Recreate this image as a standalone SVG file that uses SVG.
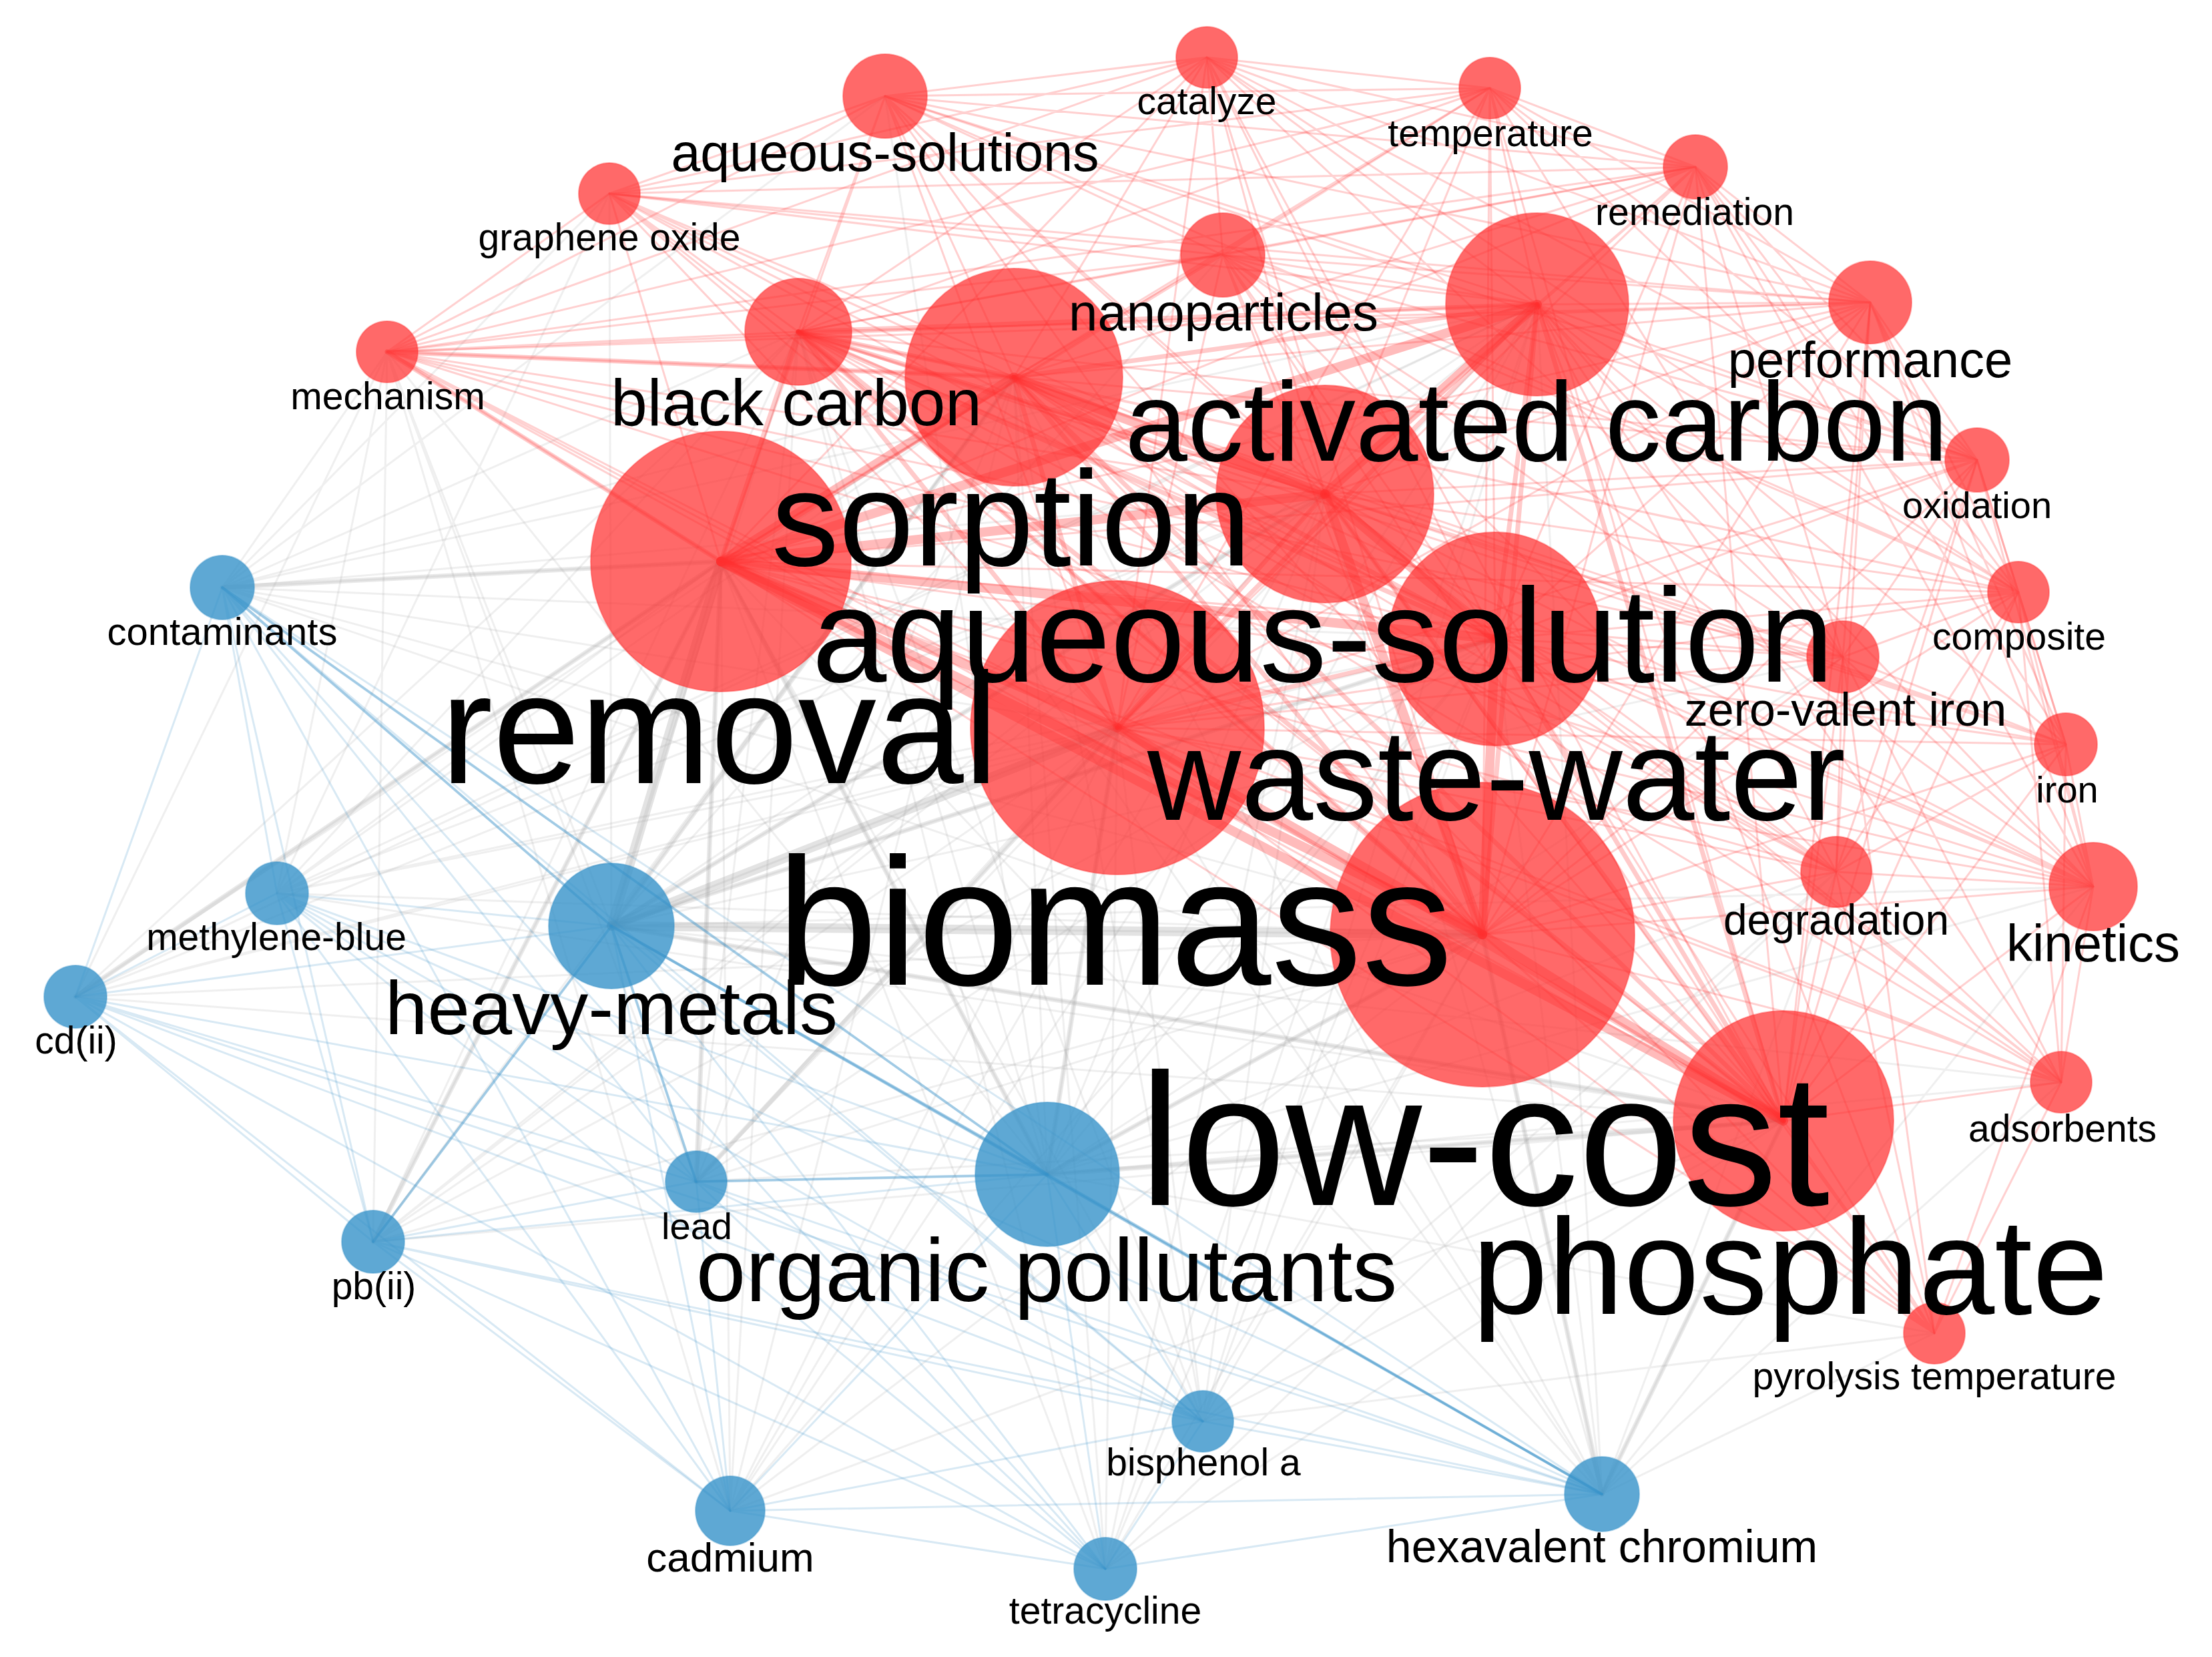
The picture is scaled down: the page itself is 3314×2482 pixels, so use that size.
<svg xmlns="http://www.w3.org/2000/svg" width="3314" height="2482" viewBox="0 0 3314 2482">
<style>
.e path,.e line{fill:none;stroke-linecap:round}
.r1{stroke:#ff2a2a;stroke-opacity:.22;stroke-width:3}
.r2{stroke:#ff2a2a;stroke-opacity:.25;stroke-width:7}
.r3{stroke:#ff2a2a;stroke-opacity:.32;stroke-width:14}
.g1{stroke:#9a9a9a;stroke-opacity:.16;stroke-width:3}
.g2{stroke:#9a9a9a;stroke-opacity:.22;stroke-width:7}
.g3{stroke:#9a9a9a;stroke-opacity:.28;stroke-width:14}
.b1{stroke:#3a93c8;stroke-opacity:.2;stroke-width:3}
.b2{stroke:#3a93c8;stroke-opacity:.35;stroke-width:4}
.nr circle{fill:#ff2f2f;fill-opacity:.72;stroke:#ff2f2f;stroke-opacity:.4;stroke-width:2}
.nb circle{fill:#3692c9;fill-opacity:.8;stroke:#3692c9;stroke-opacity:.4;stroke-width:2}
text{font-family:"Liberation Sans",Arial,sans-serif;text-anchor:middle;fill:#000}
</style>
<rect width="3314" height="2482" fill="#fff"/>
<g id="connectors" class="e">
<path class="g1" d="M333 880L1196 497M333 880L1519 565M333 880L2303 456M333 880L1985 740M333 880L1080 841M333 880L2240 957M333 880L1674 1090M333 880L2221 1400M333 880L2672 1679"/>
<path class="g1" d="M415 1338L1196 497M415 1338L1519 565M415 1338L2303 456M415 1338L1985 740M415 1338L1080 841M415 1338L2240 957M415 1338L1674 1090M415 1338L2221 1400M415 1338L2672 1679"/>
<path class="g1" d="M916 1387L1196 497M916 1387L1519 565M916 1387L2303 456M916 1387L1985 740M916 1387L1080 841M916 1387L2240 957M916 1387L1674 1090M916 1387L2221 1400M916 1387L2672 1679"/>
<path class="g1" d="M113 1493L1196 497M113 1493L1519 565M113 1493L2303 456M113 1493L1985 740M113 1493L1080 841M113 1493L2240 957M113 1493L1674 1090M113 1493L2221 1400M113 1493L2672 1679"/>
<path class="g1" d="M559 1860L1196 497M559 1860L1519 565M559 1860L2303 456M559 1860L1985 740M559 1860L1080 841M559 1860L2240 957M559 1860L1674 1090M559 1860L2221 1400M559 1860L2672 1679"/>
<path class="g1" d="M1043 1770L1196 497M1043 1770L1519 565M1043 1770L2303 456M1043 1770L1985 740M1043 1770L1080 841M1043 1770L2240 957M1043 1770L1674 1090M1043 1770L2221 1400M1043 1770L2672 1679"/>
<path class="g1" d="M1094 2263L1196 497M1094 2263L1519 565M1094 2263L2303 456M1094 2263L1985 740M1094 2263L1080 841M1094 2263L2240 957M1094 2263L1674 1090M1094 2263L2221 1400M1094 2263L2672 1679"/>
<path class="g1" d="M1569 1759L1196 497M1569 1759L1519 565M1569 1759L2303 456M1569 1759L1985 740M1569 1759L1080 841M1569 1759L2240 957M1569 1759L1674 1090M1569 1759L2221 1400M1569 1759L2672 1679"/>
<path class="g1" d="M1802 2129L1196 497M1802 2129L1519 565M1802 2129L2303 456M1802 2129L1985 740M1802 2129L1080 841M1802 2129L2240 957M1802 2129L1674 1090M1802 2129L2221 1400M1802 2129L2672 1679"/>
<path class="g1" d="M1656 2350L1196 497M1656 2350L1519 565M1656 2350L2303 456M1656 2350L1985 740M1656 2350L1080 841M1656 2350L2240 957M1656 2350L1674 1090M1656 2350L2221 1400M1656 2350L2672 1679"/>
<path class="g1" d="M2400 2238L1196 497M2400 2238L1519 565M2400 2238L2303 456M2400 2238L1985 740M2400 2238L1080 841M2400 2238L2240 957M2400 2238L1674 1090M2400 2238L2221 1400M2400 2238L2672 1679"/>
<path class="g1" d="M333 880L580 527M333 880L913 290M415 1338L580 527M113 1493L580 527M559 1860L580 527M916 1387L580 527M916 1387L913 290M916 1387L1832 382M916 1387L3136 1328M916 1387L2761 984M1569 1759L2751 1306M1569 1759L3136 1328M1569 1759L2761 984M2400 2238L2898 1997M2400 2238L3088 1621M2400 2238L2751 1306M2400 2238L3136 1328M1802 2129L2898 1997M1802 2129L2751 1306M1094 2263L580 527M1043 1770L580 527M1569 1759L580 527M1569 1759L1326 144M333 880L1326 144M1656 2350L2751 1306M415 1338L913 290M1569 1759L2898 1997M916 1387L3088 1621M1569 1759L3088 1621"/>
<line class="g2" x1="1569" y1="1759" x2="2221" y2="1400"/>
<line class="g2" x1="1569" y1="1759" x2="1674" y2="1090"/>
<line class="g2" x1="1569" y1="1759" x2="1080" y2="841"/>
<line class="g2" x1="916" y1="1387" x2="1519" y2="565"/>
<line class="g2" x1="916" y1="1387" x2="1985" y2="740"/>
<line class="g2" x1="916" y1="1387" x2="2240" y2="957"/>
<line class="g2" x1="916" y1="1387" x2="2672" y2="1679"/>
<line class="g2" x1="333" y1="880" x2="1080" y2="841"/>
<line class="g2" x1="1569" y1="1759" x2="2672" y2="1679"/>
<line class="g2" x1="2400" y1="2238" x2="2221" y2="1400"/>
<line class="g2" x1="2400" y1="2238" x2="2672" y2="1679"/>
<line class="g2" x1="1043" y1="1770" x2="1080" y2="841"/>
<line class="g2" x1="1043" y1="1770" x2="1674" y2="1090"/>
<line class="g2" x1="559" y1="1860" x2="1080" y2="841"/>
<line class="g2" x1="113" y1="1493" x2="1080" y2="841"/>
<line class="g3" x1="916" y1="1387" x2="2221" y2="1400"/>
<line class="g3" x1="916" y1="1387" x2="1080" y2="841"/>
<line class="g3" x1="916" y1="1387" x2="1674" y2="1090"/>
<path class="b1" d="M333 880L415 1338M333 880L916 1387M333 880L113 1493M333 880L559 1860M333 880L1043 1770M333 880L1094 2263M333 880L1569 1759M333 880L1802 2129M333 880L1656 2350M333 880L2400 2238"/>
<path class="b1" d="M415 1338L916 1387M415 1338L113 1493M415 1338L559 1860M415 1338L1043 1770M415 1338L1094 2263M415 1338L1569 1759M415 1338L1802 2129M415 1338L1656 2350M415 1338L2400 2238"/>
<path class="b1" d="M916 1387L113 1493M916 1387L559 1860M916 1387L1043 1770M916 1387L1094 2263M916 1387L1569 1759M916 1387L1802 2129M916 1387L1656 2350M916 1387L2400 2238"/>
<path class="b1" d="M113 1493L559 1860M113 1493L1043 1770M113 1493L1094 2263M113 1493L1569 1759M113 1493L1802 2129M113 1493L1656 2350M113 1493L2400 2238"/>
<path class="b1" d="M559 1860L1043 1770M559 1860L1094 2263M559 1860L1569 1759M559 1860L1802 2129M559 1860L1656 2350M559 1860L2400 2238"/>
<path class="b1" d="M1043 1770L1094 2263M1043 1770L1569 1759M1043 1770L1802 2129M1043 1770L1656 2350M1043 1770L2400 2238"/>
<path class="b1" d="M1094 2263L1569 1759M1094 2263L1802 2129M1094 2263L1656 2350M1094 2263L2400 2238"/>
<path class="b1" d="M1569 1759L1802 2129M1569 1759L1656 2350M1569 1759L2400 2238M1802 2129L1656 2350M1802 2129L2400 2238M1656 2350L2400 2238"/>
<line class="b2" x1="916" y1="1387" x2="1569" y2="1759"/>
<line class="b2" x1="916" y1="1387" x2="2400" y2="2238"/>
<line class="b2" x1="1569" y1="1759" x2="2400" y2="2238"/>
<line class="b2" x1="333" y1="880" x2="916" y2="1387"/>
<line class="b2" x1="916" y1="1387" x2="1043" y2="1770"/>
<line class="b2" x1="1569" y1="1759" x2="1043" y2="1770"/>
<line class="b2" x1="559" y1="1860" x2="916" y2="1387"/>
<line class="b2" x1="333" y1="880" x2="1569" y2="1759"/>
<path class="r1" d="M1326 144L1196 497M1326 144L1519 565M1326 144L2303 456M1326 144L1985 740M1326 144L1080 841M1326 144L2240 957M1326 144L1674 1090M1326 144L2221 1400M1326 144L2672 1679"/>
<path class="r1" d="M1808 86L1196 497M1808 86L1519 565M1808 86L2303 456M1808 86L1985 740M1808 86L1080 841M1808 86L2240 957M1808 86L1674 1090M1808 86L2221 1400M1808 86L2672 1679"/>
<path class="r1" d="M2232 132L1196 497M2232 132L1519 565M2232 132L2303 456M2232 132L1985 740M2232 132L1080 841M2232 132L2240 957M2232 132L1674 1090M2232 132L2221 1400M2232 132L2672 1679"/>
<path class="r1" d="M2540 250L1196 497M2540 250L1519 565M2540 250L2303 456M2540 250L1985 740M2540 250L1080 841M2540 250L2240 957M2540 250L1674 1090M2540 250L2221 1400M2540 250L2672 1679"/>
<path class="r1" d="M913 290L1196 497M913 290L1519 565M913 290L2303 456M913 290L1985 740M913 290L1080 841M913 290L2240 957M913 290L1674 1090M913 290L2221 1400M913 290L2672 1679"/>
<path class="r1" d="M1832 382L1196 497M1832 382L1519 565M1832 382L2303 456M1832 382L1985 740M1832 382L1080 841M1832 382L2240 957M1832 382L1674 1090M1832 382L2221 1400M1832 382L2672 1679"/>
<path class="r1" d="M2802 453L1196 497M2802 453L1519 565M2802 453L2303 456M2802 453L1985 740M2802 453L1080 841M2802 453L2240 957M2802 453L1674 1090M2802 453L2221 1400M2802 453L2672 1679"/>
<path class="r1" d="M580 527L1196 497M580 527L1519 565M580 527L2303 456M580 527L1985 740M580 527L1080 841M580 527L2240 957M580 527L1674 1090M580 527L2221 1400M580 527L2672 1679"/>
<path class="r1" d="M2962 689L1196 497M2962 689L1519 565M2962 689L2303 456M2962 689L1985 740M2962 689L1080 841M2962 689L2240 957M2962 689L1674 1090M2962 689L2221 1400M2962 689L2672 1679"/>
<path class="r1" d="M3024 887L1196 497M3024 887L1519 565M3024 887L2303 456M3024 887L1985 740M3024 887L1080 841M3024 887L2240 957M3024 887L1674 1090M3024 887L2221 1400M3024 887L2672 1679"/>
<path class="r1" d="M2761 984L1196 497M2761 984L1519 565M2761 984L2303 456M2761 984L1985 740M2761 984L1080 841M2761 984L2240 957M2761 984L1674 1090M2761 984L2221 1400M2761 984L2672 1679"/>
<path class="r1" d="M3095 1115L1196 497M3095 1115L1519 565M3095 1115L2303 456M3095 1115L1985 740M3095 1115L1080 841M3095 1115L2240 957M3095 1115L1674 1090M3095 1115L2221 1400M3095 1115L2672 1679"/>
<path class="r1" d="M2751 1306L1196 497M2751 1306L1519 565M2751 1306L2303 456M2751 1306L1985 740M2751 1306L1080 841M2751 1306L2240 957M2751 1306L1674 1090M2751 1306L2221 1400M2751 1306L2672 1679"/>
<path class="r1" d="M3136 1328L1196 497M3136 1328L1519 565M3136 1328L2303 456M3136 1328L1985 740M3136 1328L1080 841M3136 1328L2240 957M3136 1328L1674 1090M3136 1328L2221 1400M3136 1328L2672 1679"/>
<path class="r1" d="M3088 1621L1196 497M3088 1621L1519 565M3088 1621L2303 456M3088 1621L1985 740M3088 1621L1080 841M3088 1621L2240 957M3088 1621L1674 1090M3088 1621L2221 1400M3088 1621L2672 1679"/>
<path class="r1" d="M2898 1997L1196 497M2898 1997L1519 565M2898 1997L2303 456M2898 1997L1985 740M2898 1997L1080 841M2898 1997L2240 957M2898 1997L1674 1090M2898 1997L2221 1400M2898 1997L2672 1679"/>
<path class="r1" d="M1326 144L1808 86M1326 144L913 290M1326 144L1832 382M1326 144L2232 132M1326 144L580 527M1808 86L2232 132M1808 86L1832 382M1808 86L2540 250M2232 132L2540 250M2232 132L1832 382M2232 132L2802 453M2540 250L2802 453M2540 250L2962 689M2540 250L1832 382M913 290L580 527M913 290L1832 382M1832 382L2802 453M2802 453L2962 689M2802 453L3024 887M2802 453L2761 984M2962 689L3024 887M2962 689L2761 984M3024 887L2761 984M3024 887L3095 1115M3024 887L3136 1328M2761 984L3095 1115M2761 984L2751 1306M2761 984L3136 1328M3095 1115L3136 1328M3095 1115L2751 1306M2751 1306L3136 1328M3136 1328L3088 1621M2751 1306L3088 1621M3088 1621L2898 1997M3136 1328L2898 1997M2751 1306L2898 1997M580 527L1832 382M913 290L1808 86M2802 453L3136 1328M2962 689L3136 1328M2540 250L3024 887M2232 132L2962 689M580 527L1808 86M580 527L2802 453M913 290L2232 132M1326 144L2802 453M1326 144L2540 250M1808 86L2802 453M1832 382L3136 1328M1832 382L2751 1306M1832 382L2761 984"/>
<path class="r1" d="M913 290L2540 250M1326 144L2962 689M1808 86L2962 689M1808 86L3024 887M2232 132L3024 887M2232 132L2761 984M2540 250L2761 984M2540 250L3136 1328M2540 250L3095 1115M1832 382L2962 689M1832 382L3024 887M2802 453L3095 1115M2802 453L2751 1306M2962 689L3095 1115M2962 689L2751 1306M3024 887L2751 1306M3024 887L3088 1621M3095 1115L3088 1621M2761 984L3088 1621M2761 984L2898 1997M580 527L2232 132M580 527L2540 250M913 290L2802 453M1326 144L3024 887M1808 86L2761 984M580 527L2761 984M580 527L3136 1328M913 290L2751 1306"/>
<line class="r2" x1="1196" y1="497" x2="1519" y2="565"/>
<line class="r2" x1="1196" y1="497" x2="2303" y2="456"/>
<line class="r2" x1="1196" y1="497" x2="1985" y2="740"/>
<line class="r2" x1="1196" y1="497" x2="1080" y2="841"/>
<line class="r2" x1="1196" y1="497" x2="2240" y2="957"/>
<line class="r2" x1="1196" y1="497" x2="1674" y2="1090"/>
<line class="r2" x1="1196" y1="497" x2="2221" y2="1400"/>
<line class="r2" x1="1196" y1="497" x2="2672" y2="1679"/>
<line class="r2" x1="1519" y1="565" x2="2303" y2="456"/>
<line class="r2" x1="1519" y1="565" x2="2240" y2="957"/>
<line class="r2" x1="1519" y1="565" x2="1674" y2="1090"/>
<line class="r2" x1="1519" y1="565" x2="2221" y2="1400"/>
<line class="r2" x1="1519" y1="565" x2="2672" y2="1679"/>
<line class="r2" x1="2303" y1="456" x2="2240" y2="957"/>
<line class="r2" x1="2303" y1="456" x2="1674" y2="1090"/>
<line class="r2" x1="2303" y1="456" x2="2221" y2="1400"/>
<line class="r2" x1="2303" y1="456" x2="2672" y2="1679"/>
<line class="r2" x1="1985" y1="740" x2="1674" y2="1090"/>
<line class="r2" x1="1985" y1="740" x2="2672" y2="1679"/>
<line class="r2" x1="2240" y1="957" x2="1674" y2="1090"/>
<line class="r2" x1="2240" y1="957" x2="2672" y2="1679"/>
<line class="r2" x1="1674" y1="1090" x2="2672" y2="1679"/>
<line class="r2" x1="580" y1="527" x2="1080" y2="841"/>
<line class="r2" x1="580" y1="527" x2="1519" y2="565"/>
<line class="r3" x1="1080" y1="841" x2="1674" y2="1090"/>
<line class="r3" x1="1080" y1="841" x2="2221" y2="1400"/>
<line class="r3" x1="1080" y1="841" x2="2672" y2="1679"/>
<line class="r3" x1="1080" y1="841" x2="1985" y2="740"/>
<line class="r3" x1="1080" y1="841" x2="1519" y2="565"/>
<line class="r3" x1="1080" y1="841" x2="2240" y2="957"/>
<line class="r3" x1="1674" y1="1090" x2="2221" y2="1400"/>
<line class="r3" x1="1985" y1="740" x2="2221" y2="1400"/>
<line class="r3" x1="1519" y1="565" x2="1985" y2="740"/>
<line class="r3" x1="1080" y1="841" x2="2303" y2="456"/>
<line class="r3" x1="2221" y1="1400" x2="2672" y2="1679"/>
<line class="r3" x1="2240" y1="957" x2="2221" y2="1400"/>
<line class="r3" x1="1985" y1="740" x2="2240" y2="957"/>
<line class="r3" x1="2303" y1="456" x2="1985" y2="740"/>
</g>
<g id="nodes">
<g id="n-aqueous-solutions" class="nr"><circle cx="1326" cy="144" r="63"/></g>
<g id="n-catalyze" class="nr"><circle cx="1808" cy="86" r="46"/></g>
<g id="n-temperature" class="nr"><circle cx="2232" cy="132" r="46"/></g>
<g id="n-remediation" class="nr"><circle cx="2540" cy="250" r="48"/></g>
<g id="n-graphene-oxide" class="nr"><circle cx="913" cy="290" r="46"/></g>
<g id="n-nanoparticles" class="nr"><circle cx="1832" cy="382" r="63"/></g>
<g id="n-activated-carbon" class="nr"><circle cx="2303" cy="456" r="137"/></g>
<g id="n-performance" class="nr"><circle cx="2802" cy="453" r="62"/></g>
<g id="n-mechanism" class="nr"><circle cx="580" cy="527" r="46"/></g>
<g id="n-black-carbon" class="nr"><circle cx="1196" cy="497" r="80"/></g>
<g id="n-sorption" class="nr"><circle cx="1519" cy="565" r="163"/></g>
<g id="n-oxidation" class="nr"><circle cx="2962" cy="689" r="48"/></g>
<g id="n-aqueous-solution" class="nr"><circle cx="1985" cy="740" r="163"/></g>
<g id="n-removal" class="nr"><circle cx="1080" cy="841" r="195"/></g>
<g id="n-composite" class="nr"><circle cx="3024" cy="887" r="46"/></g>
<g id="n-zero-valent-iron" class="nr"><circle cx="2761" cy="984" r="54"/></g>
<g id="n-waste-water" class="nr"><circle cx="2240" cy="957" r="160"/></g>
<g id="n-biomass" class="nr"><circle cx="1674" cy="1090" r="220"/></g>
<g id="n-iron" class="nr"><circle cx="3095" cy="1115" r="47"/></g>
<g id="n-degradation" class="nr"><circle cx="2751" cy="1306" r="53"/></g>
<g id="n-kinetics" class="nr"><circle cx="3136" cy="1328" r="66"/></g>
<g id="n-low-cost" class="nr"><circle cx="2221" cy="1400" r="228"/></g>
<g id="n-adsorbents" class="nr"><circle cx="3088" cy="1621" r="46"/></g>
<g id="n-phosphate" class="nr"><circle cx="2672" cy="1679" r="165"/></g>
<g id="n-pyrolysis-temperature" class="nr"><circle cx="2898" cy="1997" r="46"/></g>
<g id="n-contaminants" class="nb"><circle cx="333" cy="880" r="48"/></g>
<g id="n-methylene-blue" class="nb"><circle cx="415" cy="1338" r="47"/></g>
<g id="n-heavy-metals" class="nb"><circle cx="916" cy="1387" r="94"/></g>
<g id="n-cd-ii" class="nb"><circle cx="113" cy="1493" r="47"/></g>
<g id="n-pb-ii" class="nb"><circle cx="559" cy="1860" r="47"/></g>
<g id="n-lead" class="nb"><circle cx="1043" cy="1770" r="46"/></g>
<g id="n-cadmium" class="nb"><circle cx="1094" cy="2263" r="52"/></g>
<g id="n-organic-pollutants" class="nb"><circle cx="1569" cy="1759" r="108"/></g>
<g id="n-bisphenol-a" class="nb"><circle cx="1802" cy="2129" r="46"/></g>
<g id="n-tetracycline" class="nb"><circle cx="1656" cy="2350" r="47"/></g>
<g id="n-hexavalent-chromium" class="nb"><circle cx="2400" cy="2238" r="56"/></g>
</g>
<g id="labels">
<text id="l-aqueous-solutions" x="1326" y="256" font-size="79">aqueous-solutions</text>
<text id="l-catalyze" x="1808" y="171" font-size="57">catalyze</text>
<text id="l-temperature" x="2233" y="219" font-size="57">temperature</text>
<text id="l-remediation" x="2539" y="337" font-size="57">remediation</text>
<text id="l-graphene-oxide" x="913" y="375" font-size="57">graphene oxide</text>
<text id="l-nanoparticles" x="1833" y="495" font-size="78">nanoparticles</text>
<text id="l-activated-carbon" x="2302" y="690" font-size="168">activated carbon</text>
<text id="l-performance" x="2802" y="565" font-size="76">performance</text>
<text id="l-mechanism" x="581" y="613" font-size="57">mechanism</text>
<text id="l-black-carbon" x="1193" y="637" font-size="98">black carbon</text>
<text id="l-sorption" x="1515" y="847" font-size="202">sorption</text>
<text id="l-oxidation" x="2962" y="776" font-size="56">oxidation</text>
<text id="l-aqueous-solution" x="1982" y="1021" font-size="201">aqueous-solution</text>
<text id="l-removal" x="1078" y="1173" font-size="235">removal</text>
<text id="l-composite" x="3025" y="973" font-size="57">composite</text>
<text id="l-zero-valent-iron" x="2765" y="1087" font-size="70">zero-valent iron</text>
<text id="l-waste-water" x="2242" y="1228" font-size="194">waste-water</text>
<text id="l-biomass" x="1670" y="1475" font-size="272">biomass</text>
<text id="l-iron" x="3097" y="1202" font-size="56">iron</text>
<text id="l-degradation" x="2751" y="1400" font-size="64">degradation</text>
<text id="l-kinetics" x="3136" y="1440" font-size="78">kinetics</text>
<text id="l-low-cost" x="2224" y="1805" font-size="282">low-cost</text>
<text id="l-adsorbents" x="3090" y="1710" font-size="57">adsorbents</text>
<text id="l-phosphate" x="2682" y="1968" font-size="204">phosphate</text>
<text id="l-pyrolysis-temperature" x="2898" y="2081" font-size="57">pyrolysis temperature</text>
<text id="l-contaminants" x="333" y="966" font-size="58">contaminants</text>
<text id="l-methylene-blue" x="414" y="1423" font-size="57">methylene-blue</text>
<text id="l-heavy-metals" x="916" y="1549" font-size="114">heavy-metals</text>
<text id="l-cd-ii" x="114" y="1578" font-size="57">cd(ii)</text>
<text id="l-pb-ii" x="560" y="1946" font-size="57">pb(ii)</text>
<text id="l-lead" x="1044" y="1856" font-size="56">lead</text>
<text id="l-cadmium" x="1094" y="2354" font-size="62">cadmium</text>
<text id="l-organic-pollutants" x="1568" y="1949" font-size="134">organic pollutants</text>
<text id="l-bisphenol-a" x="1803" y="2210" font-size="57">bisphenol a</text>
<text id="l-tetracycline" x="1656" y="2432" font-size="57">tetracycline</text>
<text id="l-hexavalent-chromium" x="2400" y="2340" font-size="68">hexavalent chromium</text>
</g>
</svg>
